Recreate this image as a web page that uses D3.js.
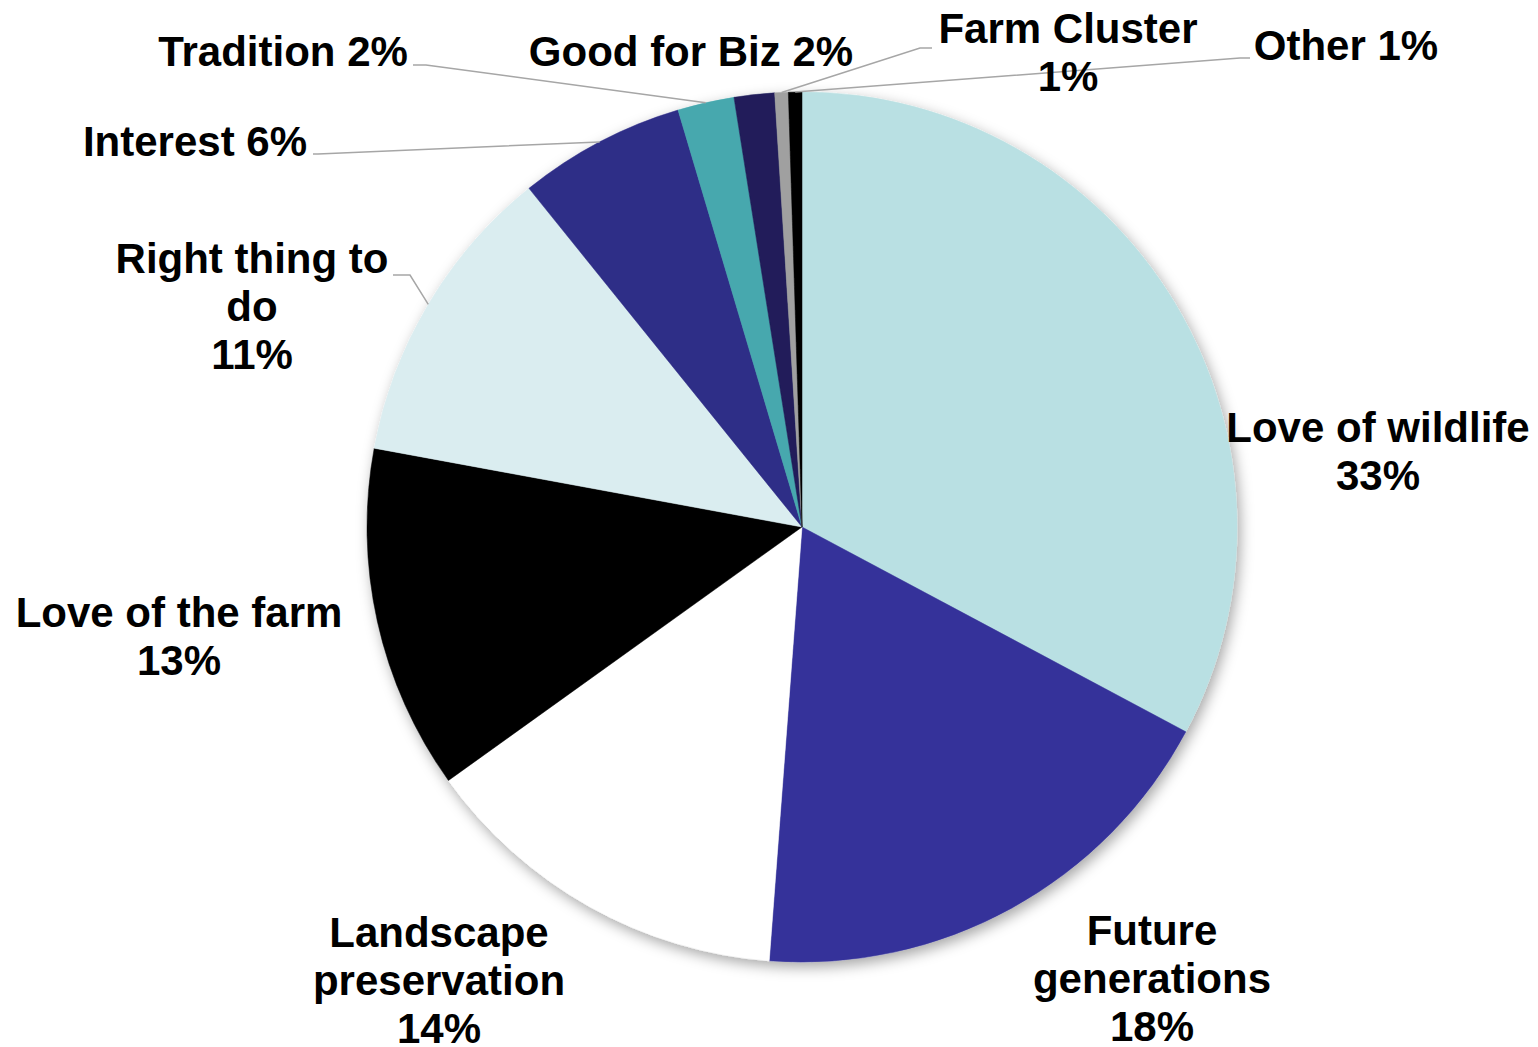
<!DOCTYPE html>
<html>
<head>
    <meta charset="utf-8">
    <title>Reasons</title>
    <script src="https://cdn.jsdelivr.net/npm/d3@7"></script>
    <style>
        body {
            margin: 0;
            background: white;
        }
        .label {
            font-family: "Liberation Sans", Arial, sans-serif;
            font-weight: bold;
            font-size: 42px;
            fill: #000;
        }
        .leader {
            fill: none;
            stroke: #a6a6a6;
            stroke-width: 1.5;
        }
    </style>
</head>
<body>
    <div id="chart"></div>
    <script>
        // Data (share of answers, %)
        const categories = ["Love of wildlife", "Future generations", "Landscape preservation",
            "Love of the farm", "Right thing to do", "Interest", "Tradition",
            "Good for Biz", "Farm Cluster", "Other"];
        const values = [32.8, 18.4, 13.9, 12.8, 11.3, 6.2, 2.1, 1.5, 0.5, 0.5];
        const colors = ["#b9e0e3", "#35339a", "#ffffff", "#000000", "#daedf0",
            "#2e2d87", "#47a8ae", "#201f5a", "#a0a0a0", "#000000"];

        // Label lines as shown in the chart
        const labelLines = [
            ["Love of wildlife", "{p}"],
            ["Future", "generations", "{p}"],
            ["Landscape", "preservation", "{p}"],
            ["Love of the farm", "{p}"],
            ["Right thing to", "do", "{p}"],
            ["Interest {p}"],
            ["Tradition {p}"],
            ["Good for Biz {p}"],
            ["Farm Cluster", "{p}"],
            ["Other {p}"]
        ];

        const width = 1538, height = 1047;
        const cx = 802, cy = 527, radius = 435;
        const lineHeight = 48;

        // label anchor (centre x, first baseline) and leader elbow per slice
        const labelLayout = [
            {x: 1378, y: 442},
            {x: 1152, y: 945},
            {x: 439, y: 947},
            {x: 179, y: 627},
            {x: 252, y: 273, leader: [[393, 275], [410, 275]]},
            {x: 195, y: 156, leader: [[313, 154], [318, 154]]},
            {x: 283, y: 66, leader: [[413, 65], [426, 65]]},
            {x: 691, y: 66},
            {x: 1068, y: 43, leader: [[932, 48], [920, 48]]},
            {x: 1346, y: 60, leader: [[1250, 58], [1240, 58]]}
        ];

        const data = categories.map((c, i) => ({name: c, value: values[i], i: i}));

        const svg = d3.select("#chart")
            .append("svg")
            .attr("width", width)
            .attr("height", height);

        const defs = svg.append("defs");
        const filter = defs.append("filter")
            .attr("id", "shadow")
            .attr("x", "-10%").attr("y", "-10%")
            .attr("width", "120%").attr("height", "120%");
        filter.append("feDropShadow")
            .attr("dx", 3)
            .attr("dy", 5)
            .attr("stdDeviation", 7)
            .attr("flood-color", "#000")
            .attr("flood-opacity", 0.35);

        const pie = d3.pie()
            .sort(null)
            .value(d => d.value);

        const arc = d3.arc()
            .innerRadius(0)
            .outerRadius(radius);

        const arcs = pie(data);

        const g = svg.append("g")
            .attr("transform", `translate(${cx},${cy})`);

        const slices = g.append("g").attr("filter", "url(#shadow)");
        slices.selectAll("path")
            .data(arcs)
            .join("path")
            .attr("d", arc)
            .attr("fill", d => colors[d.data.i])
            .attr("stroke", d => colors[d.data.i])
            .attr("stroke-width", 0.5);

        // Leader lines: from elbow to the slice's mid point on the rim
        const rim = a => {
            const m = (a.startAngle + a.endAngle) / 2;
            return [cx + radius * Math.sin(m), cy - radius * Math.cos(m)];
        };

        svg.selectAll(".leader")
            .data(arcs.filter(a => labelLayout[a.data.i].leader))
            .join("polyline")
            .attr("class", "leader")
            .attr("points", a => labelLayout[a.data.i].leader.concat([rim(a)]).map(p => p.join(",")).join(" "));

        // Labels
        const fmt = v => Math.round(v) + "%";
        const labels = svg.selectAll(".label")
            .data(arcs)
            .join("text")
            .attr("class", "label")
            .attr("text-anchor", "middle")
            .attr("x", a => labelLayout[a.data.i].x)
            .attr("y", a => labelLayout[a.data.i].y);

        labels.each(function(a) {
            const lines = labelLines[a.data.i];
            const t = d3.select(this);
            lines.forEach((ln, k) => {
                t.append("tspan")
                    .attr("x", labelLayout[a.data.i].x)
                    .attr("dy", k === 0 ? 0 : lineHeight)
                    .text(ln.replace("{p}", fmt(a.data.value)));
            });
        });
    </script>
</body>
</html>
